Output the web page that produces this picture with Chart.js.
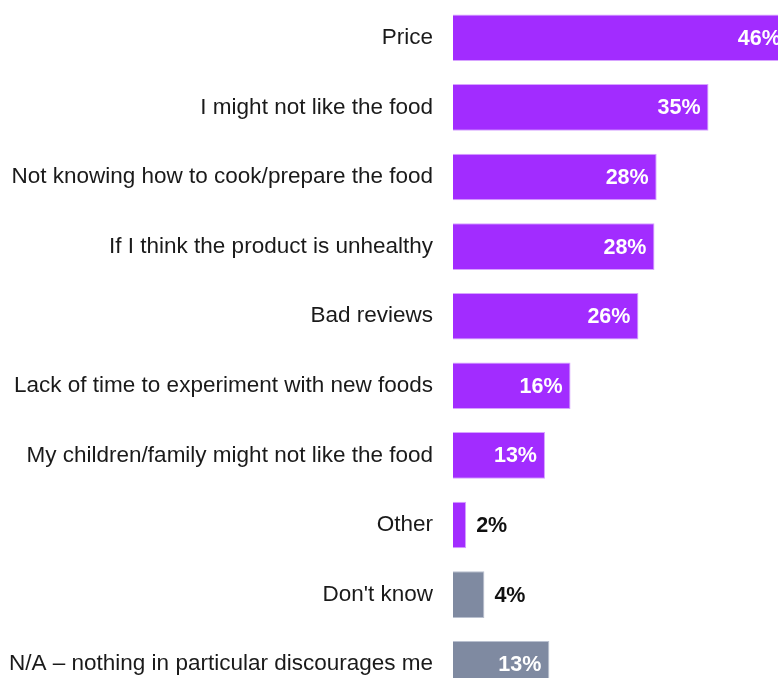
<!DOCTYPE html>
<html>
<head>
<meta charset="utf-8">
<script src="https://cdn.jsdelivr.net/npm/chart.js@4"></script>
<style>
  html, body { margin: 0; padding: 0; background: #fff; overflow: hidden; width: 778px; height: 678px; }
  canvas { display: block; }
</style>
</head>
<body>
<canvas id="chart" width="818" height="699"></canvas>
<script>
const categories = [
  'Price',
  'I might not like the food',
  'Not knowing how to cook/prepare the food',
  'If I think the product is unhealthy',
  'Bad reviews',
  'Lack of time to experiment with new foods',
  'My children/family might not like the food',
  'Other',
  "Don't know",
  'N/A \u2013 nothing in particular discourages me',
];
const values = [46, 35, 27.9, 27.6, 25.4, 16.1, 12.6, 1.8, 4.3, 13.2];
const shownLabels = ['46%', '35%', '28%', '28%', '26%', '16%', '13%', '2%', '4%', '13%'];
const isNeutral = [false, false, false, false, false, false, false, false, true, true];

const PURPLE = '#a22cff';
const PURPLE_EDGE = '#d7a3ff';
const GREY = '#7f8aa1';
const GREY_EDGE = '#b9c0cf';

// value labels: inside the bar in white, or just past the end in black for short bars
const barLabels = {
  id: 'barLabels',
  afterDatasetsDraw(chart) {
    const ctx = chart.ctx;
    const meta = chart.getDatasetMeta(0);
    ctx.save();
    ctx.font = 'bold 21.5px "Liberation Sans", Arial, sans-serif';
    ctx.textBaseline = 'middle';
    meta.data.forEach((bar, i) => {
      if (values[i] >= 10) {
        ctx.fillStyle = '#ffffff';
        ctx.textAlign = 'right';
        ctx.fillText(shownLabels[i], bar.x - 8, bar.y + 1);
      } else {
        ctx.fillStyle = '#111111';
        ctx.textAlign = 'left';
        ctx.fillText(shownLabels[i], bar.x + 10, bar.y + 1);
      }
    });
    ctx.restore();
  }
};

new Chart(document.getElementById('chart').getContext('2d'), {
  type: 'bar',
  data: {
    labels: categories,
    datasets: [{
      data: values,
      backgroundColor: isNeutral.map(n => n ? GREY : PURPLE),
      borderColor:     isNeutral.map(n => n ? GREY_EDGE : PURPLE_EDGE),
      borderWidth: 1,
      borderSkipped: 'start',
      barPercentage: 0.67,
      categoryPercentage: 1,
    }],
  },
  options: {
    indexAxis: 'y',
    responsive: false,
    animation: false,
    layout: { padding: { top: 3, bottom: 0, left: 0, right: 0 } },
    plugins: { legend: { display: false }, tooltip: { enabled: false } },
    scales: {
      x: { display: false, min: 0, max: 50 },
      y: {
        grid: { display: false, drawTicks: false },
        border: { display: false },
        ticks: {
          color: '#1a1a1a',
          padding: 20,
          font: { family: '"Liberation Sans", Arial, sans-serif', size: 22.5 },
        },
        afterFit(scale) {
          scale.width = 453;
          scale.paddingTop = 0;
          scale.paddingBottom = 0;
        },
      },
    },
  },
  plugins: [barLabels],
});
</script>
</body>
</html>
